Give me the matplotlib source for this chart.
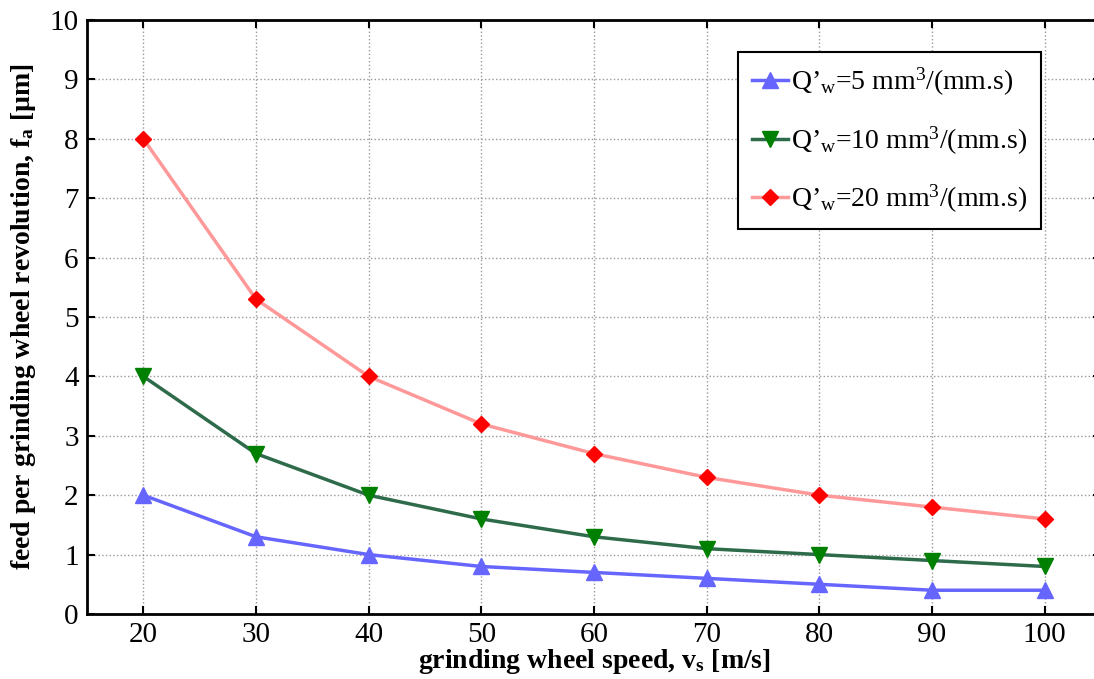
import matplotlib as mpl
import matplotlib.pyplot as plt

# Data
speed = [20, 30, 40, 50, 60, 70, 80, 90, 100]
fa_q5 = [2.0, 1.3, 1.0, 0.8, 0.7, 0.6, 0.5, 0.4, 0.4]
fa_q10 = [4.0, 2.7, 2.0, 1.6, 1.3, 1.1, 1.0, 0.9, 0.8]
fa_q20 = [8.0, 5.3, 4.0, 3.2, 2.7, 2.3, 2.0, 1.8, 1.6]
labels = ["Q’$_{\\mathrm{w}}$=5 mm$^{3}$/(mm.s)",
          "Q’$_{\\mathrm{w}}$=10 mm$^{3}$/(mm.s)",
          "Q’$_{\\mathrm{w}}$=20 mm$^{3}$/(mm.s)"]

mpl.rcParams['font.family'] = ['Liberation Serif', 'DejaVu Serif']
mpl.rcParams['mathtext.fontset'] = 'custom'
mpl.rcParams['mathtext.rm'] = 'Liberation Serif'
mpl.rcParams['mathtext.it'] = 'Liberation Serif:italic'
mpl.rcParams['mathtext.bf'] = 'Liberation Serif:bold'
mpl.rcParams['font.size'] = 20

fig = plt.figure(figsize=(10.94, 6.79), dpi=100)
ax = fig.add_axes([87/1094, 1-614/679, 1014/1094, 594/679])

ax.plot(speed, fa_q5, color='#6666ff', lw=2.5, marker='^', ms=11,
        mfc='#6666ff', mec='#6666ff', label=labels[0])
ax.plot(speed, fa_q10, color='#2e6b4b', lw=2.5, marker='v', ms=11,
        mfc='#008000', mec='#008000', label=labels[1])
ax.plot(speed, fa_q20, color='#ff9999', lw=2.5, marker='D', ms=8,
        mfc='#ff0000', mec='#ff0000', label=labels[2])

ax.set_xlim(15, 105)
ax.set_ylim(0, 10)
ax.set_xticks(speed)
ax.set_yticks(range(0, 11))
ax.grid(True, linestyle=':', color='#999999', lw=1)
ax.tick_params(direction='in', length=6, width=1.5, top=True, right=True,
               labelsize=21, pad=6)
for s in ax.spines.values():
    s.set_linewidth(2)

ax.set_xlabel("grinding wheel speed, v$_{\\mathbf{s}}$ [m/s]",
              fontweight='bold', fontsize=20, labelpad=-1)
ax.set_ylabel("feed per grinding wheel revolution, f$_{\\mathbf{a}}$ [µm]",
              fontweight='bold', fontsize=20, labelpad=8)

leg = ax.legend(loc='upper left', bbox_to_anchor=(738/1094, 1-52/679),
                bbox_transform=fig.transFigure, fancybox=False,
                edgecolor='black', framealpha=1, handlelength=1.3,
                handletextpad=0.1, borderpad=0.5, labelspacing=0.95,
                borderaxespad=0, fontsize=20)
leg.get_frame().set_linewidth(1.5)

fig.savefig('out.png', dpi=100)
